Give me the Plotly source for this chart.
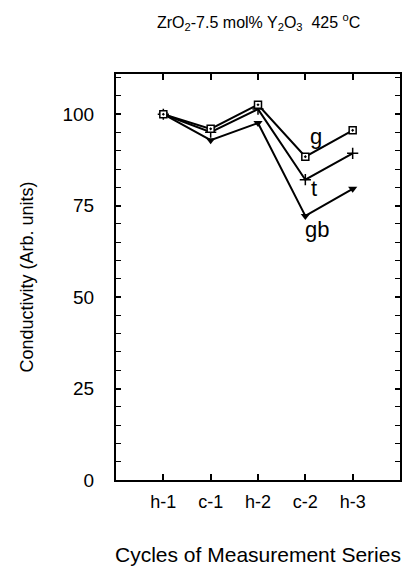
import plotly.graph_objects as go

categories = ["h-1", "c-1", "h-2", "c-2", "h-3"]
g_vals = [100.0, 96.0, 102.6, 88.4, 95.6]
t_vals = [100.0, 95.1, 101.4, 82.1, 89.3]
gb_vals = [100.0, 92.9, 97.6, 72.2, 79.6]
y_ticks = [0, 25, 50, 75, 100]
series_labels = ["g", "t", "gb"]
label_pos = [(4.22, 93.8), (4.19, 79.8), (4.24, 68.6)]

xpos = list(range(1, len(categories) + 1))
FONT = "Liberation Sans, Arial"

fig = go.Figure()
fig.add_trace(go.Scatter(x=xpos, y=gb_vals, mode="lines+markers",
                         line=dict(color="black", width=2),
                         marker=dict(symbol="triangle-down", size=8, color="black")))
fig.add_trace(go.Scatter(x=xpos, y=t_vals, mode="lines+markers",
                         line=dict(color="black", width=2),
                         marker=dict(symbol="cross-thin", size=8, color="black",
                                     line=dict(color="black", width=1.5))))
fig.add_trace(go.Scatter(x=xpos, y=g_vals, mode="lines+markers",
                         line=dict(color="black", width=2),
                         marker=dict(symbol="square-dot", size=7, color="white",
                                     line=dict(color="black", width=1.5))))

for lab, (lx, ly) in zip(series_labels, label_pos):
    fig.add_annotation(x=lx, y=ly, text=lab, showarrow=False,
                       font=dict(family=FONT, size=22, color="black"))

fig.add_annotation(xref="paper", yref="paper", x=0.5, y=1.0, yanchor="middle", yshift=52,
                   text="ZrO<sub>2</sub>-7.5 mol% Y<sub>2</sub>O<sub>3</sub>  425 <sup>o</sup>C",
                   showarrow=False, font=dict(family=FONT, size=16, color="black"))

fig.update_layout(
    width=403, height=564,
    margin=dict(l=108, r=9, t=66, b=90),
    paper_bgcolor="white", plot_bgcolor="white",
    showlegend=False,
    font=dict(family=FONT, color="black"),
)
fig.update_xaxes(range=[0, 6], tickvals=xpos, ticktext=categories,
                 ticks="inside", ticklen=6, tickwidth=1.5, tickcolor="black",
                 showline=True, linecolor="black", linewidth=2, mirror="ticks",
                 showgrid=False, zeroline=False,
                 ticklabelstandoff=4,
                 tickfont=dict(family=FONT, size=18),
                 title=dict(text="Cycles of Measurement Series",
                            font=dict(family=FONT, size=21), standoff=37))
fig.update_yaxes(range=[0, 111], tickvals=y_ticks,
                 ticks="inside", ticklen=5, tickwidth=1.5, tickcolor="black",
                 minor=dict(dtick=5, ticks="inside", ticklen=5, tickcolor="black", tickwidth=1.2),
                 showline=True, linecolor="black", linewidth=2, mirror="ticks",
                 showgrid=False, zeroline=False,
                 ticklabelstandoff=16,
                 tickfont=dict(family=FONT, size=19),
                 title=dict(text="Conductivity (Arb. units)",
                            font=dict(family=FONT, size=18), standoff=24))

fig.write_html("out.html")
